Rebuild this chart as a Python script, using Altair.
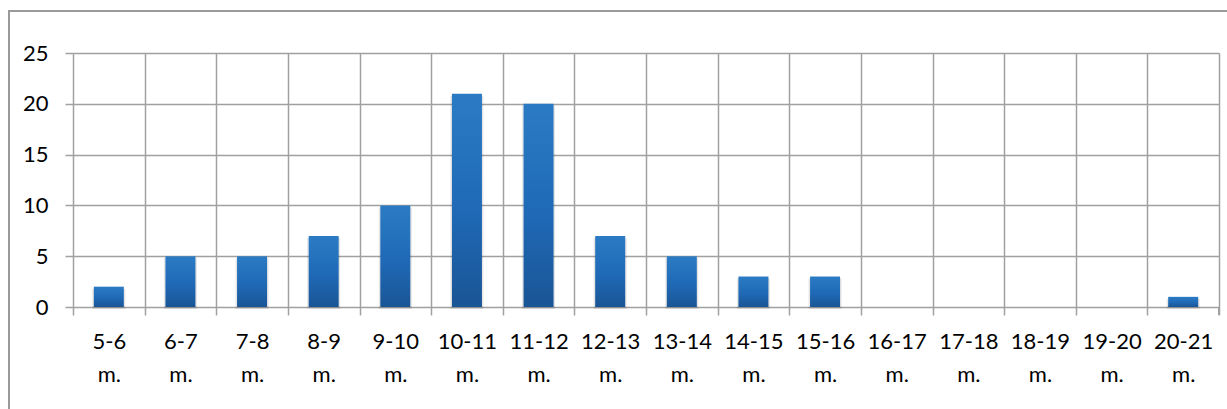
import altair as alt
import pandas as pd

# Age bands (months) and counts per band
bands = ["5-6 m.", "6-7 m.", "7-8 m.", "8-9 m.", "9-10 m.", "10-11 m.", "11-12 m.",
         "12-13 m.", "13-14 m.", "14-15 m.", "15-16 m.", "16-17 m.", "17-18 m.",
         "18-19 m.", "19-20 m.", "20-21 m."]
counts = [2, 5, 5, 7, 10, 21, 20, 7, 5, 3, 3, 0, 0, 0, 0, 1]
y_ticks = [0, 5, 10, 15, 20, 25]

df = pd.DataFrame({"band": bands, "count": counts})

W, H = 1146, 254
GRID = "#a0a0a0"
FONT = "Lato"
FS = 22

x_enc = alt.X(
    "band:N", sort=bands,
    scale=alt.Scale(paddingInner=0, paddingOuter=0),
    axis=alt.Axis(
        title=None, labelAngle=0, bandPosition=0, grid=True, gridColor=GRID,
        gridWidth=1.5, domain=False, ticks=True, tickColor=GRID, tickWidth=1.5,
        tickSize=8, tickBand="extent", labelExpr="split(datum.label, ' ')",
        labelLineHeight=33, labelPadding=16, labelFont=FONT, labelFontSize=FS,
        labelColor="#000000",
    ),
)
y_enc = alt.Y(
    "count:Q",
    scale=alt.Scale(domain=[0, 25], nice=False),
    axis=alt.Axis(
        title=None, values=y_ticks, grid=True, gridColor=GRID, gridWidth=1.5,
        domain=False, tickColor=GRID, tickWidth=1.5, tickSize=8, labelPadding=17,
        labelFont=FONT, labelFontSize=FS, labelColor="#000000",
    ),
)

base = alt.Chart(df)

# outer frame around the chart
frame = base.mark_rect(filled=False, stroke="#9a9a9a", strokeWidth=1.2).encode(
    x=alt.value(-64), x2=alt.value(1170), y=alt.value(-42), y2=alt.value(400)
)

shadow = base.mark_bar(size=33, color="#000000", opacity=0.10).encode(
    x=x_enc, y=alt.Y("count:Q", scale=alt.Scale(domain=[0, 25], nice=False)),
    yOffset=alt.value(2),
).transform_filter("datum.count > 0")

bars = base.mark_bar(
    size=30,
    color=alt.Gradient(
        gradient="linear", x1=0, x2=0, y1=0, y2=1,
        stops=[alt.GradientStop(color="#2b7bc4", offset=0),
               alt.GradientStop(color="#1f69b6", offset=0.55),
               alt.GradientStop(color="#1a5595", offset=1)],
    ),
).encode(x=x_enc, y=y_enc)

# closing tick below the right edge of the plot
edge_tick = base.mark_rule(color=GRID, strokeWidth=1.5).encode(
    x=alt.value(W), y=alt.value(H), y2=alt.value(H + 8)
)

chart = alt.layer(frame, shadow, bars, edge_tick).properties(
    width=W, height=H,
    autosize=alt.AutoSizeParams(type="none"),
    padding={"left": 73, "top": 53, "right": 8, "bottom": 102},
).configure_view(stroke=GRID, strokeWidth=1.5).configure(background="white")

chart.save("out.html", embed_options={"renderer": "svg", "actions": False})
